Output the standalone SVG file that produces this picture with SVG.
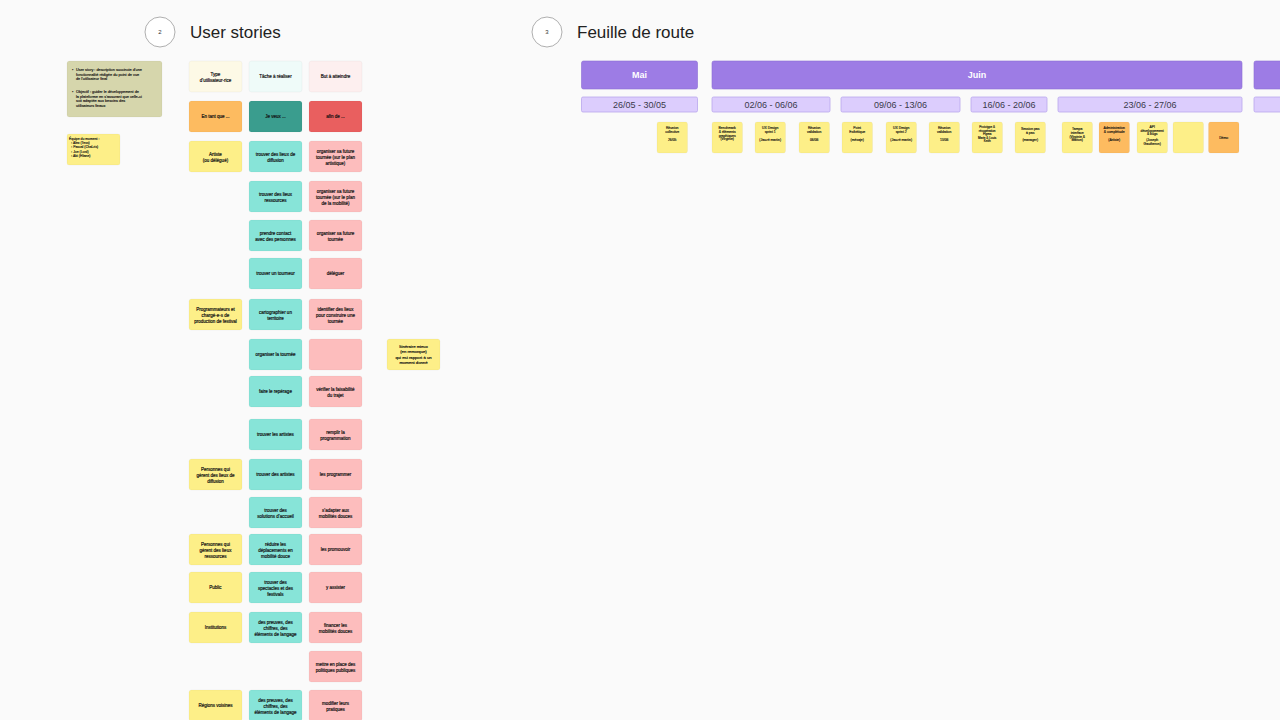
<svg xmlns="http://www.w3.org/2000/svg" width="1280" height="720" viewBox="0 0 1280 720">
<style>
  text { font-family: "Liberation Sans", Arial, sans-serif; fill: #1f1f1f; }
  .n { stroke: rgba(0,0,0,0.06); stroke-width: 0.6; }
  .yel { fill: #fdef88; }
  .tea { fill: #87e4d8; }
  .pnk { fill: #fdbdbd; }
  .h1 { fill: #fdf9e6; }
  .h2 { fill: #effbf9; }
  .h3 { fill: #fdefef; }
  .org { fill: #fdbb60; }
  .dtea { fill: #3a9d8e; }
  .red { fill: #e95f5f; }
  .olv { fill: #d6d6ac; }
  .pur { fill: #9d7ce5; stroke: #8a6bd3; stroke-width: 0.6; }
  .lav { fill: #dccdfd; stroke: #b9a6ec; stroke-width: 0.8; }
  .t, .s, .nt, .sm { fill: #111; stroke: #111; stroke-width: 0.18; }
  .t { font-size: 4.5px; text-anchor: middle; }
  .s { font-size: 3.4px; text-anchor: middle; stroke-width: 0.14; }
  .nt { font-size: 3.8px; stroke-width: 0.14; }
  .sm { font-size: 3.4px; stroke-width: 0.14; }
  .wk { font-size: 9px; text-anchor: middle; fill: #3a3a4a; }
  .mo { font-size: 9px; font-weight: bold; text-anchor: middle; fill: #ffffff; }
  .title { font-size: 17px; fill: #222; }
  .num { font-size: 6px; text-anchor: middle; fill: #333; }
</style>
<rect width="1280" height="720" fill="#fafafa"/>

<!-- Section headings -->
<g id="heading-user-stories">
  <circle cx="160" cy="32" r="15" fill="#ffffff" stroke="#9a9a9a" stroke-width="0.8"/>
  <text class="num" x="160" y="34">2</text>
  <text class="title" x="190" y="38">User stories</text>
</g>
<g id="heading-feuille-de-route">
  <circle cx="547" cy="32" r="15" fill="#ffffff" stroke="#9a9a9a" stroke-width="0.8"/>
  <text class="num" x="547" y="34">3</text>
  <text class="title" x="577" y="38">Feuille de route</text>
</g>

<!-- Left notes -->
<g id="note-definition">
  <rect class="olv n" x="67" y="61" width="95" height="56" rx="2.5"/>
  <text class="nt" x="72" y="71">•</text>
  <text class="nt" x="76" y="71"><tspan x="76">User story : description succincte d'une</tspan><tspan x="76" dy="4.5">fonctionnalité rédigée du point de vue</tspan><tspan x="76" dy="4.5">de l'utilisateur final</tspan></text>
  <text class="nt" x="72" y="93">•</text>
  <text class="nt" x="76" y="93"><tspan x="76">Objectif : guider le développement de</tspan><tspan x="76" dy="4.5">la plateforme en s'assurant que celle-ci</tspan><tspan x="76" dy="4.5">soit adaptée aux besoins des</tspan><tspan x="76" dy="4.5">utilisateurs finaux</tspan></text>
</g>
<g id="note-equipe">
  <rect class="yel n" x="67" y="134" width="53" height="31" rx="2"/>
  <text class="sm" x="69" y="140"><tspan x="69">Équipe du moment :</tspan><tspan x="71" dy="4.2">◦ Alex (Tess)</tspan><tspan x="71" dy="4.2">◦ Pascal (Chal-ris)</tspan><tspan x="71" dy="4.2">◦ Joe (Lord)</tspan><tspan x="71" dy="4.2">◦ Abi (Eliane)</tspan></text>
</g>

<!-- User stories grid -->
<g id="us-header">
  <g id="us-h1"><rect class="h1 n" x="189" y="61" width="53" height="31" rx="2.5"/><text class="t" x="215.5" y="75.5"><tspan x="215.5">Type</tspan><tspan x="215.5" dy="6">d'utilisateur·rice</tspan></text></g>
  <g id="us-h2"><rect class="h2 n" x="249" y="61" width="53" height="31" rx="2.5"/><text class="t" x="275.5" y="78">Tâche à réaliser</text></g>
  <g id="us-h3"><rect class="h3 n" x="309" y="61" width="53" height="31" rx="2.5"/><text class="t" x="335.5" y="78">But à atteindre</text></g>
</g>
<g id="us-r0">
  <g id="us-r0c1"><rect class="org n" x="189" y="101" width="53" height="31" rx="2.5"/><text class="t" x="215.5" y="118">En tant que ...</text></g>
  <g id="us-r0c2"><rect class="dtea n" x="249" y="101" width="53" height="31" rx="2.5"/><text class="t" x="275.5" y="118">Je veux ...</text></g>
  <g id="us-r0c3"><rect class="red n" x="309" y="101" width="53" height="31" rx="2.5"/><text class="t" x="335.5" y="118">afin de ...</text></g>
</g>
<g id="us-r1">
  <g id="us-r1c1"><rect class="yel n" x="189" y="141" width="53" height="31" rx="2.5"/><text class="t" x="215.5" y="155.5"><tspan x="215.5">Artiste</tspan><tspan x="215.5" dy="6">(ou délégué)</tspan></text></g>
  <g id="us-r1c2"><rect class="tea n" x="249" y="141" width="53" height="31" rx="2.5"/><text class="t" x="275.5" y="155.5"><tspan x="275.5">trouver des lieux de</tspan><tspan x="275.5" dy="6">diffusion</tspan></text></g>
  <g id="us-r1c3"><rect class="pnk n" x="309" y="141" width="53" height="31" rx="2.5"/><text class="t" x="335.5" y="152.5"><tspan x="335.5">organiser sa future</tspan><tspan x="335.5" dy="6">tournée (sur le plan</tspan><tspan x="335.5" dy="6">artistique)</tspan></text></g>
</g>
<g id="us-r2">
  <g id="us-r2c2"><rect class="tea n" x="249" y="181" width="53" height="31" rx="2.5"/><text class="t" x="275.5" y="195.5"><tspan x="275.5">trouver des lieux</tspan><tspan x="275.5" dy="6">ressources</tspan></text></g>
  <g id="us-r2c3"><rect class="pnk n" x="309" y="181" width="53" height="31" rx="2.5"/><text class="t" x="335.5" y="192.5"><tspan x="335.5">organiser sa future</tspan><tspan x="335.5" dy="6">tournée (sur le plan</tspan><tspan x="335.5" dy="6">de la mobilité)</tspan></text></g>
</g>
<g id="us-r3">
  <g id="us-r3c2"><rect class="tea n" x="249" y="220" width="53" height="31" rx="2.5"/><text class="t" x="275.5" y="234.5"><tspan x="275.5">prendre contact</tspan><tspan x="275.5" dy="6">avec des personnes</tspan></text></g>
  <g id="us-r3c3"><rect class="pnk n" x="309" y="220" width="53" height="31" rx="2.5"/><text class="t" x="335.5" y="234.5"><tspan x="335.5">organiser sa future</tspan><tspan x="335.5" dy="6">tournée</tspan></text></g>
</g>
<g id="us-r4">
  <g id="us-r4c2"><rect class="tea n" x="249" y="258" width="53" height="31" rx="2.5"/><text class="t" x="275.5" y="275">trouver un tourneur</text></g>
  <g id="us-r4c3"><rect class="pnk n" x="309" y="258" width="53" height="31" rx="2.5"/><text class="t" x="335.5" y="275">déléguer</text></g>
</g>
<g id="us-r5">
  <g id="us-r5c1"><rect class="yel n" x="189" y="299" width="53" height="31" rx="2.5"/><text class="t" x="215.5" y="310.5"><tspan x="215.5">Programmateurs et</tspan><tspan x="215.5" dy="6">chargé·e·s de</tspan><tspan x="215.5" dy="6">production de festival</tspan></text></g>
  <g id="us-r5c2"><rect class="tea n" x="249" y="299" width="53" height="31" rx="2.5"/><text class="t" x="275.5" y="313.5"><tspan x="275.5">cartographier un</tspan><tspan x="275.5" dy="6">territoire</tspan></text></g>
  <g id="us-r5c3"><rect class="pnk n" x="309" y="299" width="53" height="31" rx="2.5"/><text class="t" x="335.5" y="310.5"><tspan x="335.5">identifier des lieux</tspan><tspan x="335.5" dy="6">pour construire une</tspan><tspan x="335.5" dy="6">tournée</tspan></text></g>
</g>
<g id="us-r6">
  <g id="us-r6c2"><rect class="tea n" x="249" y="339" width="53" height="31" rx="2.5"/><text class="t" x="275.5" y="356">organiser la tournée</text></g>
  <g id="us-r6c3"><rect class="pnk n" x="309" y="339" width="53" height="31" rx="2.5"/></g>
  <g id="us-r6-note"><rect class="yel n" x="387" y="339" width="53" height="31" rx="2.5"/><text class="t" x="413.5" y="347.5" style="font-size:4.2px"><tspan x="413.5">Itinéraire mieux</tspan><tspan x="413.5" dy="5.5">(en remorque)</tspan><tspan x="413.5" dy="5.5">qui est rapport à un</tspan><tspan x="413.5" dy="5.5">moment donné</tspan></text></g>
</g>
<g id="us-r7">
  <g id="us-r7c2"><rect class="tea n" x="249" y="376" width="53" height="31" rx="2.5"/><text class="t" x="275.5" y="393">faire le repérage</text></g>
  <g id="us-r7c3"><rect class="pnk n" x="309" y="376" width="53" height="31" rx="2.5"/><text class="t" x="335.5" y="390.5"><tspan x="335.5">vérifier la faisabilité</tspan><tspan x="335.5" dy="6">du trajet</tspan></text></g>
</g>
<g id="us-r8">
  <g id="us-r8c2"><rect class="tea n" x="249" y="419" width="53" height="31" rx="2.5"/><text class="t" x="275.5" y="436">trouver les artistes</text></g>
  <g id="us-r8c3"><rect class="pnk n" x="309" y="419" width="53" height="31" rx="2.5"/><text class="t" x="335.5" y="433.5"><tspan x="335.5">remplir la</tspan><tspan x="335.5" dy="6">programmation</tspan></text></g>
</g>
<g id="us-r9">
  <g id="us-r9c1"><rect class="yel n" x="189" y="459" width="53" height="31" rx="2.5"/><text class="t" x="215.5" y="470.5"><tspan x="215.5">Personnes qui</tspan><tspan x="215.5" dy="6">gèrent des lieux de</tspan><tspan x="215.5" dy="6">diffusion</tspan></text></g>
  <g id="us-r9c2"><rect class="tea n" x="249" y="459" width="53" height="31" rx="2.5"/><text class="t" x="275.5" y="476">trouver des artistes</text></g>
  <g id="us-r9c3"><rect class="pnk n" x="309" y="459" width="53" height="31" rx="2.5"/><text class="t" x="335.5" y="476">les programmer</text></g>
</g>
<g id="us-r10">
  <g id="us-r10c2"><rect class="tea n" x="249" y="497" width="53" height="31" rx="2.5"/><text class="t" x="275.5" y="511.5"><tspan x="275.5">trouver des</tspan><tspan x="275.5" dy="6">solutions d'accueil</tspan></text></g>
  <g id="us-r10c3"><rect class="pnk n" x="309" y="497" width="53" height="31" rx="2.5"/><text class="t" x="335.5" y="511.5"><tspan x="335.5">s'adapter aux</tspan><tspan x="335.5" dy="6">mobilités douces</tspan></text></g>
</g>
<g id="us-r11">
  <g id="us-r11c1"><rect class="yel n" x="189" y="534" width="53" height="31" rx="2.5"/><text class="t" x="215.5" y="545.5"><tspan x="215.5">Personnes qui</tspan><tspan x="215.5" dy="6">gèrent des lieux</tspan><tspan x="215.5" dy="6">ressources</tspan></text></g>
  <g id="us-r11c2"><rect class="tea n" x="249" y="534" width="53" height="31" rx="2.5"/><text class="t" x="275.5" y="545.5"><tspan x="275.5">réduire les</tspan><tspan x="275.5" dy="6">déplacements en</tspan><tspan x="275.5" dy="6">mobilité douce</tspan></text></g>
  <g id="us-r11c3"><rect class="pnk n" x="309" y="534" width="53" height="31" rx="2.5"/><text class="t" x="335.5" y="551">les promouvoir</text></g>
</g>
<g id="us-r12">
  <g id="us-r12c1"><rect class="yel n" x="189" y="572" width="53" height="31" rx="2.5"/><text class="t" x="215.5" y="589">Public</text></g>
  <g id="us-r12c2"><rect class="tea n" x="249" y="572" width="53" height="31" rx="2.5"/><text class="t" x="275.5" y="583.5"><tspan x="275.5">trouver des</tspan><tspan x="275.5" dy="6">spectacles et des</tspan><tspan x="275.5" dy="6">festivals</tspan></text></g>
  <g id="us-r12c3"><rect class="pnk n" x="309" y="572" width="53" height="31" rx="2.5"/><text class="t" x="335.5" y="589">y assister</text></g>
</g>
<g id="us-r13">
  <g id="us-r13c1"><rect class="yel n" x="189" y="612" width="53" height="31" rx="2.5"/><text class="t" x="215.5" y="629">Institutions</text></g>
  <g id="us-r13c2"><rect class="tea n" x="249" y="612" width="53" height="31" rx="2.5"/><text class="t" x="275.5" y="623.5"><tspan x="275.5">des preuves, des</tspan><tspan x="275.5" dy="6">chiffres, des</tspan><tspan x="275.5" dy="6">éléments de langage</tspan></text></g>
  <g id="us-r13c3"><rect class="pnk n" x="309" y="612" width="53" height="31" rx="2.5"/><text class="t" x="335.5" y="626.5"><tspan x="335.5">financer les</tspan><tspan x="335.5" dy="6">mobilités douces</tspan></text></g>
</g>
<g id="us-r14">
  <g id="us-r14c3"><rect class="pnk n" x="309" y="651" width="53" height="31" rx="2.5"/><text class="t" x="335.5" y="665.5"><tspan x="335.5">mettre en place des</tspan><tspan x="335.5" dy="6">politiques publiques</tspan></text></g>
</g>
<g id="us-r15">
  <g id="us-r15c1"><rect class="yel n" x="189" y="690" width="53" height="31" rx="2.5"/><text class="t" x="215.5" y="707">Régions voisines</text></g>
  <g id="us-r15c2"><rect class="tea n" x="249" y="690" width="53" height="31" rx="2.5"/><text class="t" x="275.5" y="701.5"><tspan x="275.5">des preuves, des</tspan><tspan x="275.5" dy="6">chiffres, des</tspan><tspan x="275.5" dy="6">éléments de langage</tspan></text></g>
  <g id="us-r15c3"><rect class="pnk n" x="309" y="690" width="53" height="31" rx="2.5"/><text class="t" x="335.5" y="704.5"><tspan x="335.5">modifier leurs</tspan><tspan x="335.5" dy="6">pratiques</tspan></text></g>
</g>

<!-- Roadmap -->
<g id="rm-months">
  <g id="rm-mai"><rect class="pur" x="581.5" y="61" width="116" height="28" rx="2"/><text class="mo" x="639.5" y="78">Mai</text></g>
  <g id="rm-juin"><rect class="pur" x="712" y="61" width="530" height="28" rx="2"/><text class="mo" x="977" y="78">Juin</text></g>
  <g id="rm-next"><rect class="pur" x="1254" y="61" width="40" height="28" rx="2"/></g>
</g>
<g id="rm-weeks">
  <g id="wk1"><rect class="lav" x="581.5" y="97" width="116" height="15" rx="1.5"/><text class="wk" x="639.5" y="108">26/05 - 30/05</text></g>
  <g id="wk2"><rect class="lav" x="712" y="97" width="118" height="15" rx="1.5"/><text class="wk" x="771" y="108">02/06 - 06/06</text></g>
  <g id="wk3"><rect class="lav" x="841" y="97" width="119" height="15" rx="1.5"/><text class="wk" x="900.5" y="108">09/06 - 13/06</text></g>
  <g id="wk4"><rect class="lav" x="971" y="97" width="76" height="15" rx="1.5"/><text class="wk" x="1009" y="108">16/06 - 20/06</text></g>
  <g id="wk5"><rect class="lav" x="1058" y="97" width="184" height="15" rx="1.5"/><text class="wk" x="1150" y="108">23/06 - 27/06</text></g>
  <g id="wk6"><rect class="lav" x="1254" y="97" width="40" height="15" rx="1.5"/></g>
</g>
<g id="rm-tasks">
  <g id="tk1"><rect class="yel n" x="657" y="122" width="30.5" height="31" rx="2"/><text class="s" x="672.2" y="129"><tspan x="672.2">Réunion</tspan><tspan x="672.2" dy="4">collective</tspan><tspan x="672.2" dy="8">26/05</tspan></text></g>
  <g id="tk2"><rect class="yel n" x="712" y="122" width="30.5" height="31" rx="2"/><text class="s" x="727.2" y="129"><tspan x="727.2">Benchmark</tspan><tspan x="727.2" dy="3.8">&amp; éléments</tspan><tspan x="727.2" dy="3.8">graphiques</tspan><tspan x="727.2" dy="3.8">(Virginie)</tspan></text></g>
  <g id="tk3"><rect class="yel n" x="755" y="122" width="30.5" height="31" rx="2"/><text class="s" x="770.2" y="129"><tspan x="770.2">UX Design</tspan><tspan x="770.2" dy="4">sprint 1</tspan><tspan x="770.2" dy="8">(Jauzé martin)</tspan></text></g>
  <g id="tk4"><rect class="yel n" x="799" y="122" width="30.5" height="31" rx="2"/><text class="s" x="814.2" y="129"><tspan x="814.2">Réunion</tspan><tspan x="814.2" dy="4">validation</tspan><tspan x="814.2" dy="8">06/06</tspan></text></g>
  <g id="tk5"><rect class="yel n" x="842" y="122" width="30.5" height="31" rx="2"/><text class="s" x="857.2" y="129"><tspan x="857.2">Point</tspan><tspan x="857.2" dy="4">Esthétique</tspan><tspan x="857.2" dy="8">(mésaje)</tspan></text></g>
  <g id="tk6"><rect class="yel n" x="886" y="122" width="30.5" height="31" rx="2"/><text class="s" x="901.2" y="129"><tspan x="901.2">UX Design</tspan><tspan x="901.2" dy="4">sprint 2</tspan><tspan x="901.2" dy="8">(Jauzé martin)</tspan></text></g>
  <g id="tk7"><rect class="yel n" x="929" y="122" width="30.5" height="31" rx="2"/><text class="s" x="944.2" y="129"><tspan x="944.2">Réunion</tspan><tspan x="944.2" dy="4">validation</tspan><tspan x="944.2" dy="8">13/06</tspan></text></g>
  <g id="tk8"><rect class="yel n" x="972" y="122" width="30.5" height="31" rx="2"/><text class="s" x="987.2" y="128" style="font-size:3px"><tspan x="987.2">Prototype &amp;</tspan><tspan x="987.2" dy="3.5">récupération</tspan><tspan x="987.2" dy="3.5">Figma</tspan><tspan x="987.2" dy="3.5">Marie &amp; Louis</tspan><tspan x="987.2" dy="3.5">Keith</tspan></text></g>
  <g id="tk9"><rect class="yel n" x="1015" y="122" width="30.5" height="31" rx="2"/><text class="s" x="1030.2" y="130"><tspan x="1030.2">Session pas</tspan><tspan x="1030.2" dy="4">à pas</tspan><tspan x="1030.2" dy="7">(manager)</tspan></text></g>
  <g id="tk10"><rect class="yel n" x="1062" y="122" width="30.5" height="31" rx="2"/><text class="s" x="1077.2" y="130"><tspan x="1077.2">Tampa</tspan><tspan x="1077.2" dy="3.8">interface</tspan><tspan x="1077.2" dy="3.8">(Virginie &amp;</tspan><tspan x="1077.2" dy="3.8">Marion)</tspan></text></g>
  <g id="tk11"><rect class="org n" x="1099" y="122" width="30.5" height="31" rx="2"/><text class="s" x="1114.2" y="129"><tspan x="1114.2">Administration</tspan><tspan x="1114.2" dy="4">&amp; complétude</tspan><tspan x="1114.2" dy="8">(Artiste)</tspan></text></g>
  <g id="tk12"><rect class="yel n" x="1137" y="122" width="30.5" height="31" rx="2"/><text class="s" x="1152.2" y="128"><tspan x="1152.2">API</tspan><tspan x="1152.2" dy="3.6">développement</tspan><tspan x="1152.2" dy="3.6">&amp; bugs</tspan><tspan x="1152.2" dy="6">(Joseph</tspan><tspan x="1152.2" dy="3.6">Gautheron)</tspan></text></g>
  <g id="tk13"><rect class="yel n" x="1173" y="122" width="30.5" height="31" rx="2"/></g>
  <g id="tk14"><rect class="org n" x="1208.5" y="122" width="30.5" height="31" rx="2"/><text class="s" x="1223.7" y="138.5">Démo</text></g>
</g>
<g id="connectors"></g>
</svg>
